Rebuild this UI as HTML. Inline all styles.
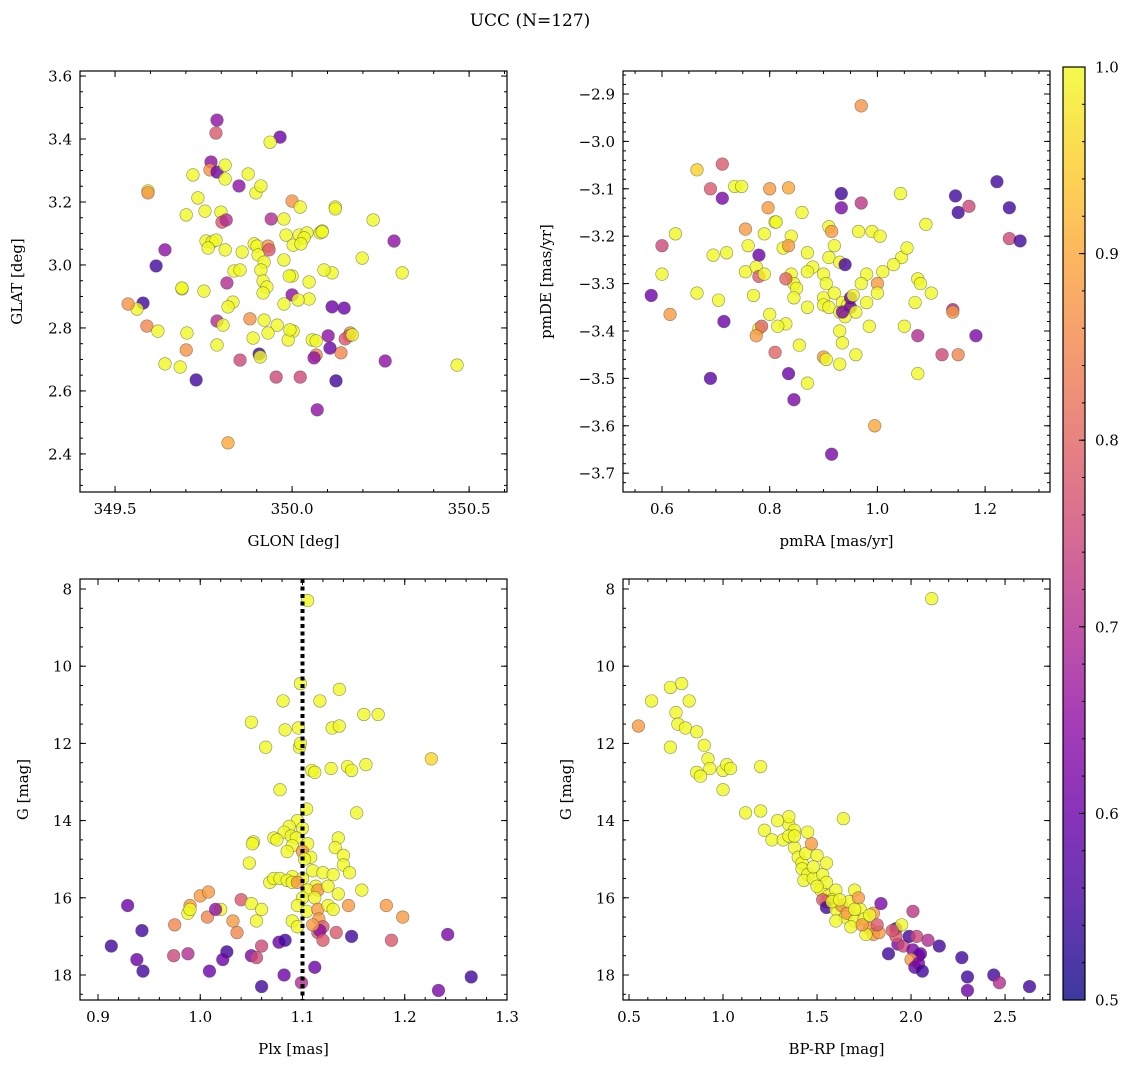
<!DOCTYPE html>
<html><head><meta charset="utf-8"><style>
body{margin:0;background:#fff;}
svg text{font-family:"DejaVu Serif","Liberation Serif",serif;fill:#000;}
</style></head><body>
<svg id="fig" width="1136" height="1067" xmlns="http://www.w3.org/2000/svg">
<text x="530" y="26" font-size="17" text-anchor="middle">UCC (N=127)</text>
</svg>
<script>
// ---- data (x, y, membership probability) ----
const skyPts=[[349.788,3.460,.65],[349.785,3.419,.78],[349.771,3.327,.65],[349.768,3.302,.87],[349.788,3.295,.6],[349.966,3.406,.6],[349.938,3.390,1],[349.811,3.317,1],[349.593,3.235,1],[349.593,3.229,.87],[349.720,3.286,1],[349.876,3.289,1],[349.811,3.273,1],[349.850,3.251,.65],[349.898,3.229,1],[350.000,3.203,.87],[349.734,3.213,1],[349.701,3.159,1],[349.754,3.171,1],[349.799,3.168,1],[349.802,3.136,.78],[349.814,3.143,.7],[349.941,3.146,.7],[349.977,3.146,1],[350.023,3.184,1],[350.020,3.095,1],[350.042,3.102,1],[350.122,3.184,1],[350.122,3.178,1],[350.229,3.143,1],[350.079,3.102,1],[350.288,3.076,.65],[349.641,3.048,.65],[349.616,2.997,.55],[349.757,3.076,1],[349.774,3.073,1],[349.785,3.079,1],[349.763,3.054,1],[349.893,3.067,1],[349.901,3.060,1],[349.932,3.060,.87],[349.935,3.048,.78],[349.983,3.095,1],[350.034,3.086,1],[349.904,3.032,1],[349.811,3.048,1],[349.859,3.041,1],[349.921,3.009,1],[349.977,3.016,1],[350.003,3.063,1],[350.025,3.067,1],[350.085,3.108,1],[350.113,2.975,1],[350.090,2.984,1],[350.198,3.022,1],[350.311,2.975,1],[350.000,2.965,1],[349.912,2.984,1],[349.836,2.981,1],[349.853,2.984,1],[349.816,2.943,.7],[349.918,2.949,1],[349.929,2.930,1],[349.689,2.924,1],[349.689,2.927,1],[349.751,2.917,1],[349.918,2.911,1],[349.992,2.965,1],[350.000,2.905,.65],[350.048,2.946,1],[350.048,2.892,1],[349.833,2.882,1],[349.819,2.867,1],[349.579,2.879,.55],[349.562,2.860,1],[349.537,2.876,.87],[350.113,2.867,.6],[349.977,2.876,1],[350.017,2.889,1],[349.881,2.829,.87],[349.788,2.822,.7],[349.805,2.809,1],[349.590,2.806,.85],[349.921,2.825,1],[349.958,2.809,1],[350.003,2.790,1],[350.147,2.863,.6],[350.164,2.784,.87],[349.703,2.784,1],[349.701,2.730,.87],[349.788,2.746,1],[349.890,2.768,1],[349.932,2.784,1],[349.989,2.762,1],[349.994,2.794,1],[350.057,2.762,1],[350.102,2.775,.65],[350.068,2.759,1],[350.068,2.714,.85],[350.138,2.721,.85],[350.161,2.775,.8],[350.150,2.765,.78],[350.170,2.778,1],[350.107,2.736,.6],[349.907,2.717,.55],[349.910,2.708,1],[349.853,2.698,.75],[349.729,2.635,.55],[349.641,2.686,1],[349.684,2.676,1],[349.955,2.644,.75],[350.023,2.644,.75],[350.062,2.705,.65],[350.124,2.632,.55],[350.071,2.540,.65],[350.263,2.695,.65],[350.466,2.682,1],[349.819,2.435,.9],[349.621,2.790,1],[350.085,3.105,1],[349.912,3.251,1]];
const pmPts=[[0.97,-2.925,.87],[0.665,-3.06,.95],[0.712,-3.048,.78],[0.712,-3.12,.62],[0.69,-3.10,.78],[0.735,-3.095,1],[0.748,-3.095,1],[0.80,-3.10,.88],[0.835,-3.098,.9],[0.797,-3.14,.88],[0.86,-3.15,1],[0.84,-3.20,1],[0.81,-3.17,1],[0.812,-3.17,1],[0.933,-3.11,.55],[0.933,-3.14,.62],[0.97,-3.13,.72],[1.043,-3.11,1],[1.145,-3.115,.55],[1.15,-3.15,.55],[1.17,-3.137,.75],[1.222,-3.085,.55],[1.245,-3.14,.55],[1.245,-3.205,.75],[1.265,-3.21,.55],[0.625,-3.195,1],[0.6,-3.22,.75],[0.72,-3.235,1],[0.695,-3.24,1],[0.755,-3.185,.88],[0.76,-3.22,1],[0.79,-3.195,1],[0.825,-3.225,1],[0.835,-3.22,.88],[0.78,-3.24,.6],[0.91,-3.18,1],[0.915,-3.19,.88],[0.92,-3.22,1],[0.91,-3.245,1],[0.88,-3.265,1],[0.87,-3.235,1],[0.93,-3.255,1],[0.94,-3.26,.55],[0.965,-3.19,1],[0.99,-3.19,1],[1.005,-3.2,1],[1.045,-3.245,1],[1.055,-3.225,1],[1.09,-3.175,1],[1.03,-3.26,1],[1.01,-3.275,1],[1.0,-3.3,.88],[1.0,-3.32,1],[0.98,-3.28,1],[0.6,-3.28,1],[0.58,-3.325,.6],[0.615,-3.365,.88],[0.665,-3.32,1],[0.705,-3.335,1],[0.755,-3.275,1],[0.775,-3.265,1],[0.78,-3.285,.78],[0.79,-3.28,1],[0.77,-3.325,1],[0.80,-3.365,1],[0.78,-3.395,1],[0.785,-3.39,.8],[0.775,-3.41,.88],[0.715,-3.38,.6],[0.69,-3.5,.58],[0.84,-3.28,1],[0.845,-3.3,1],[0.85,-3.31,1],[0.845,-3.33,1],[0.83,-3.29,.8],[0.87,-3.275,1],[0.87,-3.35,1],[0.83,-3.385,1],[0.815,-3.39,1],[0.81,-3.445,.8],[0.855,-3.43,1],[0.87,-3.51,1],[0.835,-3.49,.6],[0.845,-3.545,.62],[0.9,-3.28,1],[0.905,-3.3,1],[0.9,-3.33,1],[0.9,-3.345,1],[0.91,-3.35,1],[0.92,-3.32,1],[0.93,-3.36,1],[0.935,-3.34,1],[0.945,-3.345,1],[0.95,-3.33,.6],[0.95,-3.35,.6],[0.955,-3.325,1],[0.94,-3.37,1],[0.96,-3.36,1],[0.97,-3.3,1],[0.98,-3.34,1],[0.985,-3.39,1],[0.93,-3.4,1],[0.935,-3.425,1],[0.9,-3.455,.88],[0.905,-3.46,1],[0.93,-3.47,1],[0.96,-3.45,1],[0.935,-3.36,.62],[0.995,-3.6,.9],[0.915,-3.66,.62],[1.05,-3.39,1],[1.07,-3.34,1],[1.075,-3.29,1],[1.08,-3.3,1],[1.075,-3.41,.7],[1.075,-3.49,1],[1.1,-3.32,1],[1.14,-3.355,.7],[1.14,-3.36,.88],[1.12,-3.45,.75],[1.15,-3.45,.85],[1.183,-3.41,.62]];
const plxPts=[[1.105,8.3,1],[1.098,10.45,1],[1.117,10.9,1],[1.136,10.6,1],[1.081,10.9,1],[1.05,11.45,1],[1.083,11.65,1],[1.096,11.6,1],[1.129,11.6,1],[1.136,11.55,1],[1.16,11.25,1],[1.174,11.25,1],[1.226,12.4,.96],[1.064,12.1,1],[1.097,12.1,1],[1.098,12.0,1],[1.109,12.7,1],[1.112,12.75,1],[1.128,12.65,1],[1.144,12.6,1],[1.148,12.7,1],[1.162,12.55,1],[1.078,13.2,1],[1.153,13.8,1],[1.104,13.7,1],[1.095,14.0,1],[1.1,14.2,1],[1.087,14.15,1],[1.082,14.3,1],[1.089,14.4,1],[1.094,14.45,1],[1.072,14.45,1],[1.075,14.5,1],[1.135,14.45,1],[1.132,14.7,1],[1.105,14.6,1],[1.09,14.65,1],[1.1,14.8,.88],[1.085,14.8,1],[1.052,14.55,1],[1.051,14.6,1],[1.048,15.1,1],[1.108,14.95,1],[1.102,15.0,1],[1.14,14.9,1],[1.14,15.15,1],[1.11,15.3,1],[1.12,15.35,1],[1.13,15.4,1],[1.146,15.35,1],[1.09,15.45,1],[1.068,15.6,1],[1.072,15.5,1],[1.078,15.5,1],[1.085,15.55,1],[1.09,15.6,1],[1.1,15.5,1],[1.095,15.6,.88],[1.113,15.7,1],[1.105,15.8,1],[1.115,15.8,.88],[1.125,15.7,1],[1.135,15.9,1],[1.158,15.8,1],[1.1,16.0,1],[1.112,16.0,1],[1.095,16.2,1],[1.104,16.35,1],[1.115,16.3,.88],[1.125,16.2,1],[1.13,16.3,1],[1.145,16.2,.88],[1.182,16.2,.88],[1.198,16.5,.88],[1.116,16.55,.88],[1.12,16.75,.78],[1.115,16.9,.78],[1.117,16.85,.65],[1.12,17.1,.78],[1.09,16.6,1],[1.095,16.75,1],[1.11,16.7,.88],[1.0,15.95,.88],[1.008,15.85,.88],[0.99,16.2,.88],[0.988,16.4,1],[0.99,16.3,1],[1.02,16.3,1],[1.032,16.6,.88],[1.036,16.9,.85],[1.007,16.5,.85],[1.015,16.3,.65],[0.975,16.7,.85],[1.04,16.05,.78],[1.055,16.6,1],[1.05,16.15,1],[1.06,16.3,1],[0.929,16.2,.6],[0.943,16.85,.55],[0.913,17.25,.55],[0.938,17.6,.6],[0.944,17.9,.55],[0.974,17.5,.75],[0.988,17.45,.7],[1.009,17.9,.6],[1.026,17.4,.55],[1.022,17.6,.6],[1.05,17.5,.62],[1.055,17.55,.75],[1.06,17.25,.75],[1.06,18.3,.55],[1.077,17.15,.6],[1.083,17.1,.55],[1.082,18.0,.6],[1.099,18.2,.7],[1.112,17.8,.6],[1.133,16.9,.78],[1.148,17.0,.55],[1.187,17.1,.78],[1.233,18.4,.62],[1.242,16.95,.62],[1.265,18.05,.55]];
const cmdPts=[[2.11,8.25,1],[0.55,11.55,.88],[0.62,10.9,1],[0.72,10.55,1],[0.78,10.45,1],[0.82,10.9,1],[0.75,11.2,1],[0.76,11.5,1],[0.8,11.6,1],[0.72,12.1,1],[0.86,11.7,1],[0.9,12.05,1],[0.92,12.4,1],[0.93,12.65,1],[0.86,12.75,1],[0.88,12.85,1],[1.0,12.7,1],[1.02,12.55,1],[1.04,12.65,1],[1.0,13.2,1],[1.2,12.6,1],[1.12,13.8,1],[1.2,13.75,1],[1.22,14.25,1],[1.26,14.5,1],[1.32,14.5,1],[1.35,14.1,1],[1.38,14.25,1],[1.35,14.4,1],[1.38,14.7,1],[1.4,14.95,1],[1.42,15.1,1],[1.44,14.85,1],[1.47,14.6,.88],[1.42,15.25,1],[1.45,15.4,1],[1.43,15.55,1],[1.48,15.5,1],[1.53,15.4,1],[1.55,15.1,1],[1.52,15.8,1],[1.55,15.6,1],[1.56,15.95,1],[1.6,15.8,1],[1.58,16.05,1],[1.64,13.95,1],[1.55,16.1,.88],[1.53,16.05,.78],[1.55,16.25,.55],[1.6,16.3,1],[1.63,16.2,.88],[1.65,16.5,1],[1.66,16.4,.88],[1.67,16.1,1],[1.7,15.8,1],[1.72,16.0,.88],[1.73,16.3,1],[1.7,16.6,1],[1.68,16.75,1],[1.75,16.55,1],[1.8,16.4,.88],[1.78,16.8,.88],[1.8,16.95,.88],[1.83,16.9,.88],[1.82,16.7,.78],[1.76,16.95,1],[1.84,16.15,.62],[1.88,17.45,.55],[1.92,16.8,.55],[1.95,16.7,1],[1.93,17.2,.62],[1.96,17.25,.75],[1.92,17.0,.78],[1.99,17.0,.55],[2.01,16.35,.72],[2.03,17.0,.75],[2.01,17.35,.62],[2.04,17.5,.6],[2.05,17.45,.6],[2.0,17.6,.88],[2.02,17.8,.6],[2.04,17.7,.62],[2.06,17.9,.55],[2.09,17.1,.7],[2.15,17.25,.55],[2.27,17.55,.55],[2.3,18.05,.55],[2.3,18.4,.6],[2.44,18.0,.55],[2.47,18.2,.7],[2.63,18.3,.55],[1.45,14.3,1],[1.5,14.9,1],[1.48,15.2,1],[1.5,15.7,1],[1.6,16.6,1],[1.58,16.1,1],[1.35,13.9,1],[1.38,14.4,1],[1.29,14.0,1],[1.62,16.05,1],[1.7,16.3,1],[1.74,16.7,.88],[1.78,16.45,1],[1.9,16.85,.78]];
const plxRef=1.1;
const cbarTicks=[0.5,0.6,0.7,0.8,0.9,1.0];

const NS="http://www.w3.org/2000/svg";
const svg=document.getElementById('fig');
function el(tag,attrs,parent){const e=document.createElementNS(NS,tag);for(const k in attrs)e.setAttribute(k,attrs[k]);(parent||svg).appendChild(e);return e;}
const stops=['#0d0887','#41049d','#6a00a8','#8f0da4','#b12a90','#cc4778','#e16462','#f2844b','#fca636','#fcce25','#f0f921'];
function hex(c){return [1,3,5].map(i=>parseInt(c.substr(i,2),16));}
function plasma(t){t=Math.max(0,Math.min(1,t));const f=t*10,i=Math.min(9,Math.floor(f)),r=f-i;const a=hex(stops[i]),b=hex(stops[i+1]);return 'rgb('+a.map((v,k)=>Math.round(v+(b[k]-v)*r)).join(',')+')';}
function pcol(p){return plasma((p-0.5)/0.5);}

function panel(o){
  const g=el('g',{});
  
  
  const sx=v=>o.x0+(v-o.xmin)/(o.xmax-o.xmin)*(o.x1-o.x0);
  const sy=o.yinv?(v=>o.y0+(v-o.ymin)/(o.ymax-o.ymin)*(o.y1-o.y0)):(v=>o.y1-(v-o.ymin)/(o.ymax-o.ymin)*(o.y1-o.y0));
  const clip='c'+o.name;
  const cp=el('clipPath',{id:clip},g);el('rect',{x:o.x0,y:o.y0,width:o.x1-o.x0,height:o.y1-o.y0},cp);
  const pg=el('g',{'clip-path':'url(#'+clip+')'},g);
  o.pts.forEach(d=>{
    const c=el('circle',{cx:sx(d[0]),cy:sy(d[1]),r:6.3,fill:pcol(d[2]),'fill-opacity':0.8,stroke:'#444','stroke-opacity':0.6,'stroke-width':0.6},pg);
    
    
  });
  if(o.vline!==undefined){
    const l=el('line',{x1:sx(o.vline),x2:sx(o.vline),y1:o.y0,y2:o.y1,stroke:'#000','stroke-width':4,'stroke-dasharray':'4 3.5'},pg);
    
    
  }
  el('rect',{x:o.x0,y:o.y0,width:o.x1-o.x0,height:o.y1-o.y0,fill:'none',stroke:'#000','stroke-width':1.2},g);
  const ticks=(min,max,step)=>{const a=[];for(let v=Math.ceil(min/step-1e-9)*step;v<=max+1e-9;v+=step)a.push(+v.toFixed(6));return a;};
  ticks(o.xmin,o.xmax,o.xminor).forEach(v=>{const x=sx(v);el('line',{x1:x,x2:x,y1:o.y1,y2:o.y1-3,stroke:'#000'},g);el('line',{x1:x,x2:x,y1:o.y0,y2:o.y0+3,stroke:'#000'},g);});
  ticks(o.ymin,o.ymax,o.yminor).forEach(v=>{const y=sy(v);el('line',{x1:o.x0,x2:o.x0+3,y1:y,y2:y,stroke:'#000'},g);el('line',{x1:o.x1,x2:o.x1-3,y1:y,y2:y,stroke:'#000'},g);});
  ticks(o.xmin,o.xmax,o.xmajor).forEach(v=>{const x=sx(v);el('line',{x1:x,x2:x,y1:o.y1,y2:o.y1-6,stroke:'#000'},g);el('line',{x1:x,x2:x,y1:o.y0,y2:o.y0+6,stroke:'#000'},g);
    const t=el('text',{x:x,y:o.y1+22,'font-size':15,'text-anchor':'middle'},g);t.textContent=v.toFixed(o.xdec);
    });
  ticks(o.ymin,o.ymax,o.ymajor).forEach(v=>{const y=sy(v);el('line',{x1:o.x0,x2:o.x0+6,y1:y,y2:y,stroke:'#000'},g);el('line',{x1:o.x1,x2:o.x1-6,y1:y,y2:y,stroke:'#000'},g);
    const t=el('text',{x:o.x0-8,y:y+5.5,'font-size':15,'text-anchor':'end'},g);t.textContent=v.toFixed(o.ydec).replace('-','\u2212');
    });
  const xt=el('text',{x:(o.x0+o.x1)/2,y:o.y1+54,'font-size':15,'text-anchor':'middle'},g);xt.textContent=o.xlabel;
  
  const yx=o.x0-o.ylabOff,yy=(o.y0+o.y1)/2;
  const yt=el('text',{x:yx,y:yy,'font-size':15,'text-anchor':'middle',transform:'rotate(-90 '+yx+' '+yy+')'},g);yt.textContent=o.ylabel;
  
}
panel({name:'panel-glon-glat',pts:skyPts,x0:80,x1:507,y0:71,y1:492,xmin:349.401,xmax:350.607,ymin:2.279,ymax:3.616,xmajor:0.5,xminor:0.1,ymajor:0.2,yminor:0.05,xdec:1,ydec:1,xlabel:'GLON [deg]',ylabel:'GLAT [deg]',ylabOff:58});
panel({name:'panel-pmra-pmde',pts:pmPts,x0:623,x1:1050,y0:71,y1:492,xmin:0.5276,xmax:1.3205,ymin:-3.7397,ymax:-2.8515,xmajor:0.2,xminor:0.05,ymajor:0.1,yminor:0.02,xdec:1,ydec:1,xlabel:'pmRA [mas/yr]',ylabel:'pmDE [mas/yr]',ylabOff:72});
panel({name:'panel-plx-g',pts:plxPts,vline:plxRef,x0:80,x1:507,y0:579,y1:1000,xmin:0.8824,xmax:1.3,ymin:7.741,ymax:18.648,yinv:true,xmajor:0.1,xminor:0.02,ymajor:2,yminor:0.5,xdec:1,ydec:0,xlabel:'Plx [mas]',ylabel:'G [mag]',ylabOff:52});
panel({name:'panel-color-magnitude',pts:cmdPts,x0:623,x1:1050,y0:579,y1:1000,xmin:0.468,xmax:2.739,ymin:7.741,ymax:18.648,yinv:true,xmajor:0.5,xminor:0.1,ymajor:2,yminor:0.5,xdec:1,ydec:0,xlabel:'BP-RP [mag]',ylabel:'G [mag]',ylabOff:52});

// colorbar
const cb=el('g',{});


const defs=el('defs',{},cb);
const lg=el('linearGradient',{id:'cbg',x1:0,y1:1,x2:0,y2:0},defs);
stops.forEach((c,i)=>el('stop',{offset:i/10,'stop-color':c,'stop-opacity':0.8},lg));
const cbY0=67,cbY1=1000,cbX0=1063,cbX1=1085;
el('rect',{x:cbX0,y:cbY0,width:cbX1-cbX0,height:cbY1-cbY0,fill:'url(#cbg)',stroke:'#000','stroke-width':1.2},cb);
const cy=v=>cbY1-(v-0.5)/0.5*(cbY1-cbY0);
for(let v=0.5;v<=1.0001;v+=0.02){el('line',{x1:cbX1,x2:cbX1-3,y1:cy(v),y2:cy(v),stroke:'#000'},cb);}
cbarTicks.forEach(v=>{el('line',{x1:cbX1,x2:cbX1-6,y1:cy(v),y2:cy(v),stroke:'#000'},cb);
  const t=el('text',{x:cbX1+10,y:cy(v)+5.5,'font-size':15},cb);t.textContent=v.toFixed(1);
  });
</script>
</body></html>
